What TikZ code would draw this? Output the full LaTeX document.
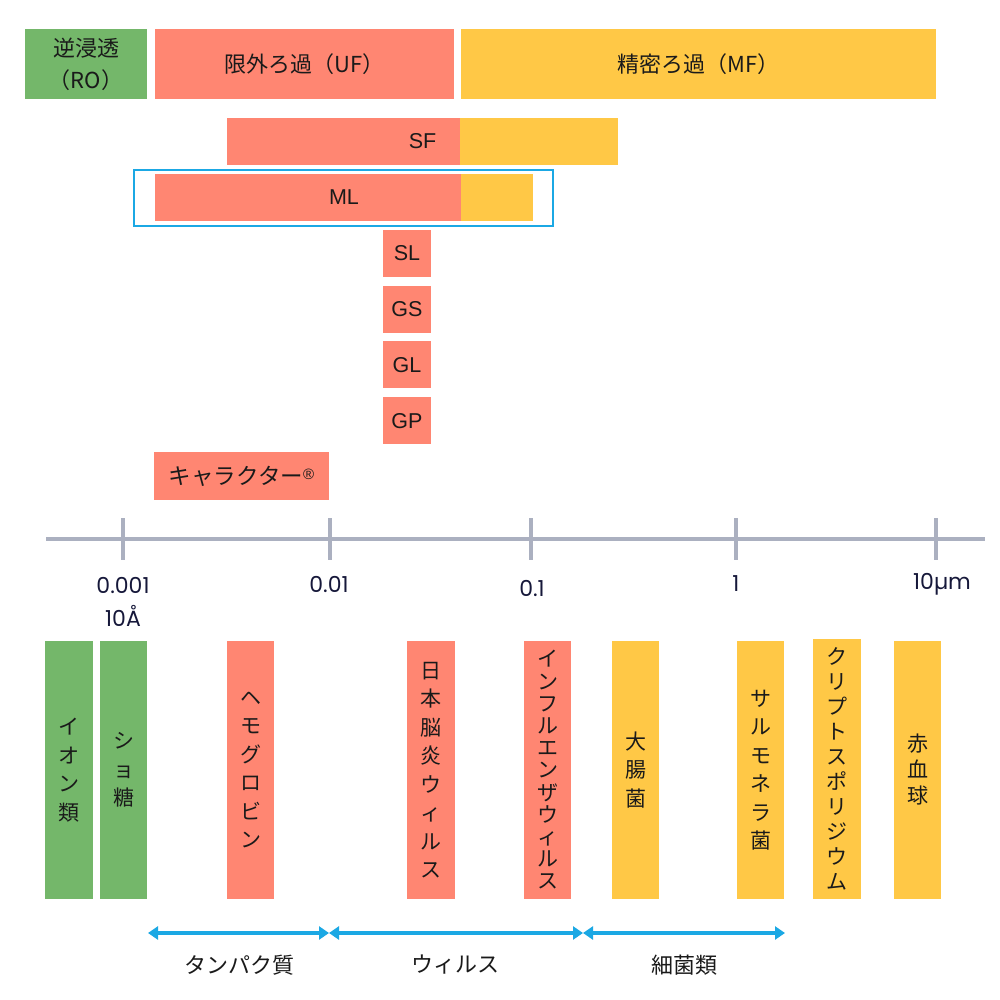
\documentclass[tikz,border=0pt]{standalone}
\usepackage{fontspec}
\setmainfont{Noto Sans CJK JP}
\newfontfamily\numfont{Poppins}
\newfontfamily\grfont{Liberation Sans}
\usetikzlibrary{fit,calc,arrows.meta}

\definecolor{rogreen}{HTML}{74B76A}
\definecolor{ufred}{HTML}{FF8672}
\definecolor{mfyellow}{HTML}{FFC846}
\definecolor{skyblue}{HTML}{1BA8E4}
\definecolor{axisgray}{HTML}{ABB0C0}
\definecolor{ink}{HTML}{1A1A1A}
\definecolor{navy}{HTML}{16183A}

% bar from corner to corner, with its text centred on it
\newcommand{\sizebar}[6]{%
    \node[fit={#2 #3}, inner sep=0pt, fill=#4] (#1) {};
    \node[text=ink, #5] (#1txt) at (#1.center) {#6};}

\begin{document}
\begin{tikzpicture}[x=1pt,y=-1pt,
    jp/.style={font=\fontsize{22}{26}\selectfont},
    tate/.style={align=center, font=\fontsize{21}{#1}\selectfont},
    tate/.default=28.5,
    grade/.style={font=\grfont\fontsize{21.5}{24}\selectfont},
    axisline/.style={draw=axisgray, line width=3.5pt},
    ticklabel/.style={text=navy, font=\numfont\fontsize{22}{24}\selectfont},
    span/.style={draw=skyblue, line width=3.5pt,
        {Triangle[width=13pt,length=10pt]}-{Triangle[width=13pt,length=10pt]}}]
    \useasboundingbox (0,0) rectangle (1000,1000);
    \fill[white] (0,0) rectangle (1000,1000);

    % separation ranges
    \sizebar{ro}{(25,29)}{(147,99)}{rogreen}{align=center, font=\fontsize{22}{32}\selectfont}{逆浸透\\（RO）}
    \sizebar{uf}{(155,29)}{(454,99)}{ufred}{jp}{限外ろ過（UF）}
    \sizebar{mf}{(461,29)}{(936,99)}{mfyellow}{jp}{精密ろ過（MF）}

    % membrane grades
    \node[fit={(134,170) (553,226)}, inner sep=0pt, draw=skyblue, line width=2pt] (mlbox) {};
    \node[fit={(227,118) (460,165)}, inner sep=0pt, fill=ufred] (sfuf) {};
    \node[fit={(460,118) (618,165)}, inner sep=0pt, fill=mfyellow] (sfmf) {};
    \node[fit={(155,174) (461,221)}, inner sep=0pt, fill=ufred] (mluf) {};
    \node[fit={(461,174) (533,221)}, inner sep=0pt, fill=mfyellow] (mlmf) {};
    \node[text=ink, grade] (sf) at ($(sfuf.west)!0.5!(sfmf.east)$) {SF};
    \node[text=ink, grade] (ml) at ($(mluf.west)!0.5!(mlmf.east)$) {ML};
    \foreach \g [count=\i from 0] in {SL,GS,GL,GP} {
        \sizebar{\g}{(383,230+55.7*\i)}{(431,277+55.7*\i)}{ufred}{grade}{\g}
    }
    \sizebar{chara}{(154,452)}{(329,500)}{ufred}{font=\fontsize{22.5}{26}\selectfont}
        {キャラクター{\grfont\fontsize{15}{15}\selectfont\raisebox{5pt}{®}}}

    % size axis
    \coordinate (ax0) at (46,539);
    \coordinate (ax1) at (985,539);
    \draw[axisline] (ax0) -- (ax1);
    \foreach \x in {123,330,531,736,936}
        \draw[axisline] (\x,518) -- (\x,560);
    \node[ticklabel] (t1) at (123,585) {0.001};
    \node[ticklabel] (t0) at (123,616) {10Å};
    \node[ticklabel] (t2) at (329,584) {0.01};
    \node[ticklabel] (t3) at (532,588) {0.1};
    \node[ticklabel] (t4) at (736,584) {1};
    \node[ticklabel] (t5) at (942,584) {10µm};

    % particles
    \sizebar{ion}{(45,641)}{(93,899)}{rogreen}{tate}{イ\\オ\\ン\\類}
    \sizebar{sugar}{(100,641)}{(147,899)}{rogreen}{tate}{シ\\ョ\\糖}
    \sizebar{hemo}{(227,641)}{(274,899)}{ufred}{tate}{ヘ\\モ\\グ\\ロ\\ビ\\ン}
    \sizebar{jev}{(407,641)}{(455,899)}{ufred}{tate}{日\\本\\脳\\炎\\ウ\\ィ\\ル\\ス}
    \sizebar{flu}{(524,641)}{(571,899)}{ufred}{tate=22.2}{イ\\ン\\フ\\ル\\エ\\ン\\ザ\\ウ\\ィ\\ル\\ス}
    \sizebar{ecoli}{(612,641)}{(659,899)}{mfyellow}{tate}{大\\腸\\菌}
    \sizebar{salm}{(737,641)}{(784,899)}{mfyellow}{tate}{サ\\ル\\モ\\ネ\\ラ\\菌}
    \sizebar{crypto}{(813,639)}{(861,899)}{mfyellow}{tate=25}{ク\\リ\\プ\\ト\\ス\\ポ\\リ\\ジ\\ウ\\ム}
    \sizebar{rbc}{(894,641)}{(941,899)}{mfyellow}{tate=26}{赤\\血\\球}

    % groups
    \coordinate (a0) at (148,933);
    \coordinate (a1) at (329,933);
    \coordinate (a2) at (583,933);
    \coordinate (a3) at (785,933);
    \draw[span] (a0) -- (a1);
    \draw[span] (a1) -- (a2);
    \draw[span] (a2) -- (a3);
    \node[text=ink, jp] (prot) at (239,965) {タンパク質};
    \node[text=ink, jp] (virus) at (455,965) {ウィルス};
    \node[text=ink, jp] (bact) at (684,965) {細菌類};

\end{tikzpicture}
\end{document}
